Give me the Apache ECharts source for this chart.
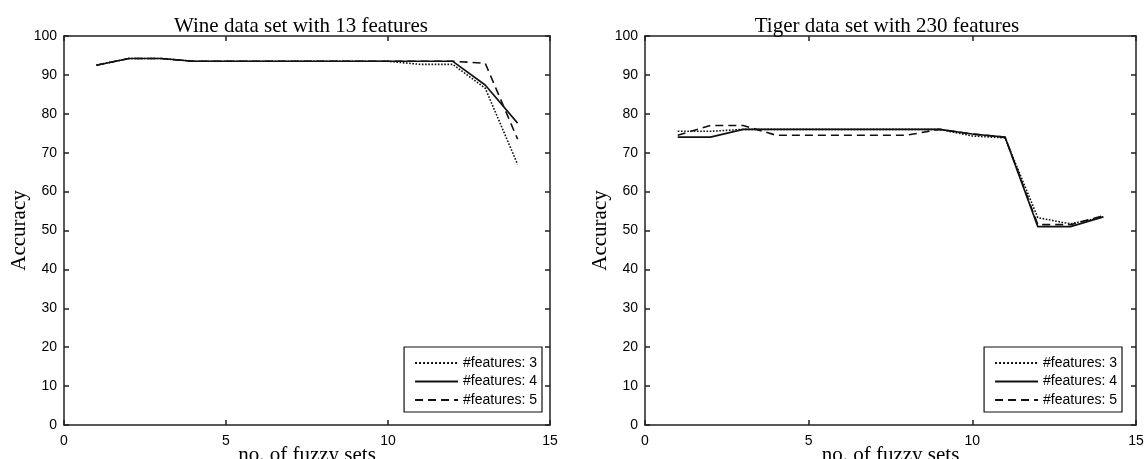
<!DOCTYPE html>
<html>
<head>
<meta charset="utf-8">
<script src="https://cdn.jsdelivr.net/npm/echarts@6/dist/echarts.min.js"></script>
<style>
html,body{margin:0;padding:0;background:#fff;}
#c{width:1148px;height:459px;}
</style>
</head>
<body>
<div id="c"></div>
<script>
// ---- data ----
const fuzzySets = [1,2,3,4,5,6,7,8,9,10,11,12,13,14];
const wineF3 = [92.5,94.2,94.2,93.5,93.5,93.5,93.5,93.5,93.5,93.5,92.7,92.7,86.6,67.0];
const wineF4 = [92.5,94.2,94.2,93.5,93.5,93.5,93.5,93.5,93.5,93.5,93.5,93.5,87.4,77.6];
const wineF5 = [92.5,94.2,94.2,93.5,93.5,93.5,93.5,93.5,93.5,93.5,93.5,93.5,93.0,73.5];
const tigerF3 = [75.5,75.5,76.0,76.0,76.0,76.0,76.0,76.0,76.0,74.3,73.8,53.3,51.7,53.5];
const tigerF4 = [74.0,74.0,76.0,76.0,76.0,76.0,76.0,76.0,76.0,74.8,74.0,51.0,51.0,53.5];
const tigerF5 = [74.5,77.0,77.0,74.5,74.5,74.5,74.5,74.5,76.0,74.8,74.0,51.5,51.5,53.8];
const seriesNames = ['#features: 3','#features: 4','#features: 5'];
const titles = ['Wine data set with 13 features','Tiger data set with 230 features'];
const xTicks = [0,5,10,15];
const yTicks = [0,10,20,30,40,50,60,70,80,90,100];

const pair = (ys) => fuzzySets.map((x,i)=>[x,ys[i]]);
const serif = 'Liberation Serif';
const sans = 'Liberation Sans';
const ink = '#111';

const grids = [
  {left:64, top:36, width:486, height:389, outerBoundsMode:'none', containLabel:false},
  {left:645, top:36, width:491, height:389, outerBoundsMode:'none', containLabel:false}
];

const xAxes = [], yAxes = [];
grids.forEach((g,gi)=>{
  xAxes.push({
    type:'value', gridIndex:gi, position:'bottom', min:xTicks[0], max:xTicks[xTicks.length-1], interval:5,
    name:'no. of fuzzy sets', nameLocation:'middle', nameGap:30, nameMoveOverlap:false,
    nameTextStyle:{fontFamily:serif, fontSize:21, color:'#000', verticalAlign:'middle'},
    axisLine:{show:true, onZero:false, lineStyle:{color:'#222', width:1.5}},
    axisTick:{show:true, inside:true, length:5, lineStyle:{color:'#222', width:1.5}},
    axisLabel:{show:true, margin:9, fontFamily:sans, fontSize:14, color:'#000'},
    splitLine:{show:false}
  });
  xAxes.push({
    type:'value', gridIndex:gi, position:'top', min:0, max:15, interval:5,
    axisLine:{show:true, onZero:false, lineStyle:{color:'#222', width:1.5}},
    axisTick:{show:true, inside:true, length:5, lineStyle:{color:'#222', width:1.5}},
    axisLabel:{show:false}, splitLine:{show:false}
  });
  yAxes.push({
    type:'value', gridIndex:gi, position:'left', min:yTicks[0], max:yTicks[yTicks.length-1], interval:10,
    name:'Accuracy', nameLocation:'middle', nameGap:34,
    nameTextStyle:{fontFamily:serif, fontSize:21, color:'#000'},
    axisLine:{show:true, onZero:false, lineStyle:{color:'#222', width:1.5}},
    axisTick:{show:true, inside:true, length:5, lineStyle:{color:'#222', width:1.5}},
    axisLabel:{show:true, margin:7, fontFamily:sans, fontSize:14, color:'#000'},
    splitLine:{show:false}
  });
  yAxes.push({
    type:'value', gridIndex:gi, position:'right', min:0, max:100, interval:10,
    axisLine:{show:true, onZero:false, lineStyle:{color:'#222', width:1.5}},
    axisTick:{show:true, inside:true, length:5, lineStyle:{color:'#222', width:1.5}},
    axisLabel:{show:false}, splitLine:{show:false}
  });
});

const styles = [
  {type:'dotted', width:1.6},
  {type:'solid', width:1.6},
  {type:[8,5], width:1.6}
];
const allData = [[wineF3,wineF4,wineF5],[tigerF3,tigerF4,tigerF5]];
const series = [];
allData.forEach((set,gi)=>{
  set.forEach((ys,si)=>{
    series.push({
      name:seriesNames[si], type:'line', xAxisIndex:gi*2, yAxisIndex:gi*2,
      data:pair(ys), symbol:'none', showSymbol:false, animation:false,
      lineStyle:{color:ink, type:styles[si].type, width:styles[si].width},
      itemStyle:{color:ink}
    });
  });
});

const legendBase = {
  orient:'vertical', top:347, itemWidth:43, itemHeight:12, itemGap:4.5,
  padding:[9,5,5,10], borderColor:'#111', borderWidth:1.2, backgroundColor:'#fff',
  textStyle:{fontFamily:sans, fontSize:14, color:'#000'},
  itemStyle:{opacity:0, borderWidth:0},
  data:seriesNames, selectedMode:false
};

const chart = echarts.init(document.getElementById('c'), null, {renderer:'canvas'});
chart.setOption({
  backgroundColor:'#fff',
  animation:false,
  title:[
    {text:titles[0], left:296, top:11, textAlign:'center', textStyle:{fontFamily:serif, fontSize:21, fontWeight:'normal', color:'#000'}},
    {text:titles[1], left:882, top:11, textAlign:'center', textStyle:{fontFamily:serif, fontSize:21, fontWeight:'normal', color:'#000'}}
  ],
  grid:grids,
  xAxis:xAxes,
  yAxis:yAxes,
  legend:[
    Object.assign({}, legendBase, {right:1148-542}),
    Object.assign({}, legendBase, {right:1148-1122})
  ],
  series:series
});
</script>
</body>
</html>
